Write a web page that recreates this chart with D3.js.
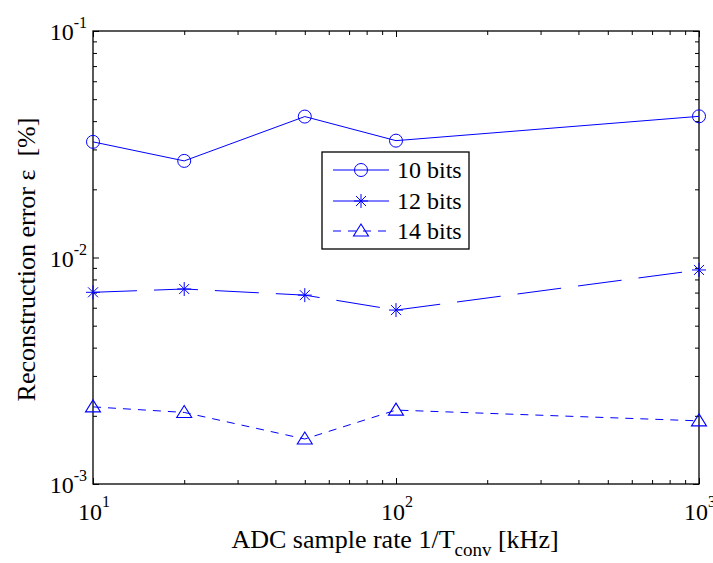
<!DOCTYPE html>
<html>
<head>
<meta charset="utf-8">
<script src="https://cdn.jsdelivr.net/npm/d3@7"></script>
<style>
  body { margin: 0; background: #fff; }
  svg text { font-family: "Liberation Serif", "Times New Roman", serif; fill: #000; }
</style>
</head>
<body>
<svg id="chart"></svg>
<script>
/* data */
var sampleRates = [10, 20, 50, 100, 1000];          // kHz
var err10 = [0.0324, 0.0267, 0.0419, 0.0328, 0.0420];
var err12 = [0.00702, 0.00726, 0.00682, 0.00586, 0.00881];
var err14 = [0.00219, 0.00207, 0.00158, 0.00212, 0.00190];
var seriesNames = ["10 bits", "12 bits", "14 bits"];
var xTickExp = [1, 2, 3];
var yTickExp = [-3, -2, -1];

/* settings */
var width = 713,
    height = 563,
    margin = { top: 31, right: 14, bottom: 79, left: 93 },
    innerWidth = width - margin.left - margin.right,
    innerHeight = height - margin.top - margin.bottom,
    blue = "#0000ff";

var series = [
  { name: seriesNames[0], values: err10, marker: "circle", dash: null },
  { name: seriesNames[1], values: err12, marker: "star", dash: "44,17" },
  { name: seriesNames[2], values: err14, marker: "triangle", dash: "8,7" }
];

var svg = d3.select("#chart")
    .attr("width", width)
    .attr("height", height);

var g = svg.append("g")
    .attr("transform", "translate(" + margin.left + "," + margin.top + ")");

/* scales */
var xScale = d3.scaleLog().domain([10, 1000]).range([0, innerWidth]);
var yScale = d3.scaleLog().domain([1e-3, 1e-1]).range([innerHeight, 0]);

function isMajor(v){
  var l = Math.log10(v);
  return Math.abs(l - Math.round(l)) < 1e-9;
}

/* axes: inward ticks on all four sides */
function styleAxis(sel){
  sel.select(".domain").remove();
  sel.selectAll(".tick text").remove();
  sel.selectAll(".tick line").attr("stroke", "#000").attr("stroke-width", 1);
}

var xTicks = xScale.ticks(), yTicks = yScale.ticks();

function tickLen(d){ return isMajor(d) ? 6 : 4; }

g.append("g").attr("transform", "translate(0," + innerHeight + ")")
  .call(d3.axisBottom(xScale).tickValues(xTicks).tickSize(0))
  .call(styleAxis)
  .selectAll(".tick line").attr("y2", function(d){ return -tickLen(d); });

g.append("g")
  .call(d3.axisTop(xScale).tickValues(xTicks).tickSize(0))
  .call(styleAxis)
  .selectAll(".tick line").attr("y2", function(d){ return tickLen(d); });

g.append("g")
  .call(d3.axisLeft(yScale).tickValues(yTicks).tickSize(0))
  .call(styleAxis)
  .selectAll(".tick line").attr("x2", function(d){ return tickLen(d); });

g.append("g").attr("transform", "translate(" + innerWidth + ",0)")
  .call(d3.axisRight(yScale).tickValues(yTicks).tickSize(0))
  .call(styleAxis)
  .selectAll(".tick line").attr("x2", function(d){ return -tickLen(d); });

/* box */
g.append("rect")
  .attr("width", innerWidth)
  .attr("height", innerHeight)
  .attr("fill", "none")
  .attr("stroke", "#000")
  .attr("stroke-width", 1.3);

/* tick labels 10^n */
var xl = g.selectAll(".xlab").data(xTickExp).enter()
  .append("text")
  .attr("class", "xlab")
  .attr("x", function(d){ return xScale(Math.pow(10, d)) + 1; })
  .attr("y", innerHeight + 36)
  .attr("text-anchor", "middle")
  .style("font-size", "24px");
xl.append("tspan").text("10");
xl.append("tspan").attr("dy", -13).style("font-size", "16px").text(function(d){ return d; });

var yl = g.selectAll(".ylab").data(yTickExp).enter()
  .append("text")
  .attr("class", "ylab")
  .attr("x", -6)
  .attr("y", function(d){ return yScale(Math.pow(10, d)) + 9; })
  .attr("text-anchor", "end")
  .style("font-size", "24px");
yl.append("tspan").text("10");
yl.append("tspan").attr("dy", -12).style("font-size", "16px").text(function(d){ return d; });

/* axis legends */
var xLegend = svg.append("text")
  .attr("x", margin.left + innerWidth / 2 - 1)
  .attr("y", 548)
  .attr("text-anchor", "middle")
  .style("font-size", "26px");
xLegend.append("tspan").text("ADC sample rate 1/T");
xLegend.append("tspan").attr("dy", 8).style("font-size", "19px").text("conv");
xLegend.append("tspan").attr("dy", -8).text(" [kHz]");

svg.append("text")
  .attr("transform", "translate(35," + (margin.top + innerHeight / 2 + 2) + ") rotate(-90)")
  .attr("text-anchor", "middle")
  .style("font-size", "26px")
  .style("white-space", "pre")
  .text("Reconstruction error \u03b5  [%]");

/* markers */
function drawMarker(sel, type){
  if (type === "circle") {
    sel.append("circle").attr("r", 6.5)
      .attr("fill", "none").attr("stroke", blue).attr("stroke-width", 1);
  } else if (type === "star") {
    var s = 7, d = 5;
    sel.append("path")
      .attr("d", "M0," + (-s) + "V" + s + "M" + (-s) + ",0H" + s +
                 "M" + (-d) + "," + (-d) + "L" + d + "," + d +
                 "M" + (-d) + "," + d + "L" + d + "," + (-d))
      .attr("fill", "none").attr("stroke", blue).attr("stroke-width", 1);
  } else {
    sel.append("path")
      .attr("d", "M0,-7L7.5,5H-7.5Z")
      .attr("fill", "none").attr("stroke", blue).attr("stroke-width", 1.1);
  }
}

/* lines */
var line = d3.line()
  .x(function(d, i){ return xScale(sampleRates[i]); })
  .y(function(d){ return yScale(d); });

series.forEach(function(s){
  g.append("path")
    .datum(s.values)
    .attr("d", line)
    .attr("fill", "none")
    .attr("stroke", blue)
    .attr("stroke-width", 1)
    .attr("stroke-dasharray", s.dash);

  g.selectAll(null).data(s.values).enter()
    .append("g")
    .attr("transform", function(d, i){
      return "translate(" + xScale(sampleRates[i]) + "," + yScale(d) + ")";
    })
    .each(function(){ drawMarker(d3.select(this), s.marker); });
});

/* legend box */
var legend = svg.append("g").attr("transform", "translate(322,152)");
legend.append("rect")
  .attr("width", 147).attr("height", 97)
  .attr("fill", "#fff").attr("stroke", "#000").attr("stroke-width", 1.3);

var rowY = [18, 49, 79];
var legendDash = [null, null, "8,7"];
series.forEach(function(s, i){
  var row = legend.append("g").attr("transform", "translate(0," + rowY[i] + ")");
  row.append("line")
    .attr("x1", 11).attr("x2", 67)
    .attr("stroke", blue).attr("stroke-width", 1)
    .attr("stroke-dasharray", legendDash[i]);
  drawMarker(row.append("g").attr("transform", "translate(39,0)"), s.marker);
  row.append("text")
    .attr("x", 75).attr("y", 8)
    .style("font-size", "24px")
    .text(s.name);
});
</script>
</body>
</html>
